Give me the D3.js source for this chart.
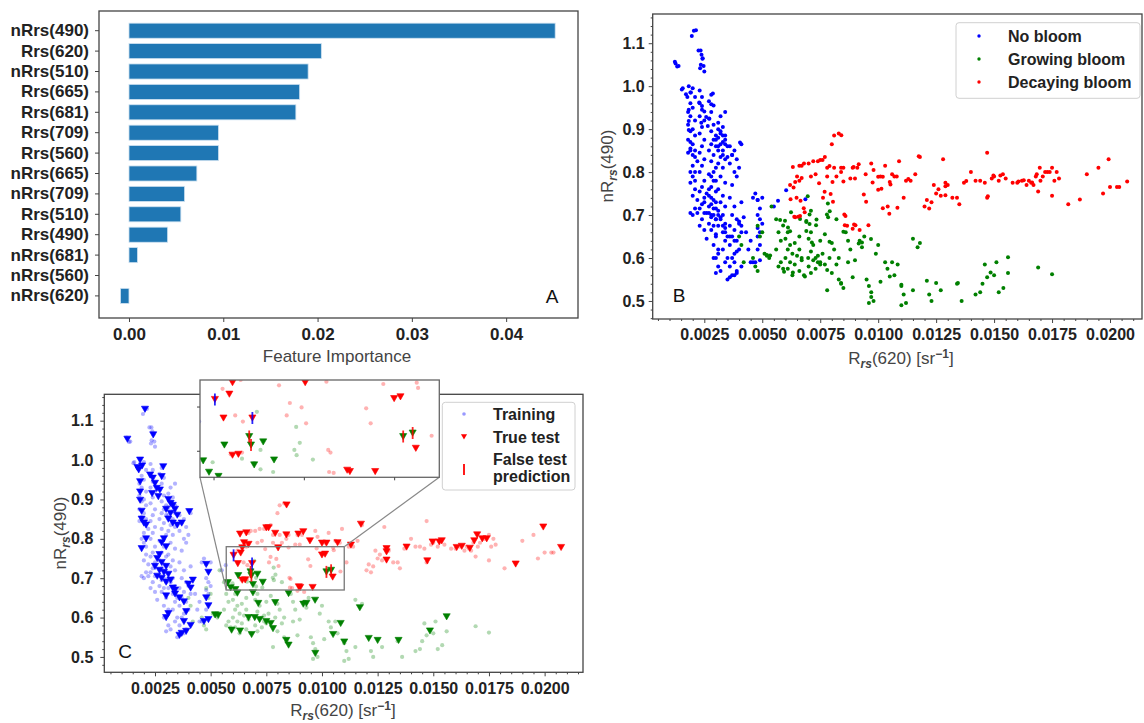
<!DOCTYPE html>
<html>
<head>
<meta charset="utf-8">
<script src="https://cdn.jsdelivr.net/npm/d3@7"></script>
<style>
  body { margin: 0; background: #fff; }
  svg text { font-family: "Liberation Sans", Arial, Helvetica, sans-serif; }
</style>
</head>
<body>
<svg id="fig" width="1144" height="723"></svg>
<script>
// ---------- Panel A: permutation feature importance ----------
const features = ["nRrs(490)", "Rrs(620)", "nRrs(510)", "Rrs(665)", "Rrs(681)", "Rrs(709)", "Rrs(560)",
  "nRrs(665)", "nRrs(709)", "Rrs(510)", "Rrs(490)", "nRrs(681)", "nRrs(560)", "nRrs(620)"];
const importance = [0.0452, 0.0204, 0.0190, 0.0181, 0.0177, 0.0095, 0.0095,
  0.0072, 0.0059, 0.0055, 0.0041, 0.0009, 0.0, -0.0009];
const importanceTicks = [0.00, 0.01, 0.02, 0.03, 0.04];

// ---------- Panels B and C: Rrs(620) vs nRrs(490) ----------
const classNames = ["No bloom", "Growing bloom", "Decaying bloom"];
const classColors = ["#0000ff", "#008000", "#ff0000"];
const xTicks620 = [0.0025, 0.0050, 0.0075, 0.0100, 0.0125, 0.0150, 0.0175, 0.0200];
const yTicks490 = [0.5, 0.6, 0.7, 0.8, 0.9, 1.0, 1.1];
const insetXTicks = [0.006, 0.008, 0.010];
const insetYTicks = [0.70, 0.75];
const insetXRange = [0.0057, 0.011];
const insetYRange = [0.67, 0.78];

// training samples [Rrs(620), nRrs(490)]
const noBloomTrain = [
  [0.00214,1.130],[0.00196,1.117],[0.00123,1.057],[0.00133,1.046],[0.00139,1.047],
  [0.00225,1.083],[0.00234,1.083],[0.00238,1.073],[0.00243,1.065],[0.00235,1.050],[0.00247,1.047],[0.00250,1.034],[0.00232,1.042],
  [0.00157,0.995],[0.00153,0.992],
  [0.0020,0.995],[0.0019,0.985],[0.0021,0.975],[0.0019,0.960],[0.0020,0.950],[0.0018,0.940],[0.0019,0.930],[0.0021,0.920],
  [0.0018,0.910],[0.0020,0.900],[0.0019,0.895],[0.0021,0.885],[0.0018,0.875],[0.0020,0.865],[0.0019,0.855],[0.0018,0.845],
  [0.0022,0.825],[0.0020,0.815],[0.0021,0.850],[0.0019,0.800],[0.0020,0.790],[0.0021,0.780],[0.0021,0.760],
  [0.0020,0.745],[0.0022,0.735],[0.0019,0.705],[0.0020,0.700],[0.0022,0.705],[0.0021,0.715],
  [0.0023,0.990],[0.0024,0.975],[0.0023,0.960],[0.0024,0.945],[0.0023,0.930],[0.0025,0.920],[0.0024,0.905],[0.0023,0.890],
  [0.0025,0.875],[0.0024,0.860],[0.0023,0.845],[0.0025,0.830],[0.0024,0.815],[0.0023,0.800],[0.0025,0.780],[0.0024,0.765],
  [0.0023,0.755],[0.0025,0.740],[0.0024,0.725],[0.0023,0.715],[0.0025,0.705],[0.0024,0.690],[0.0023,0.675],[0.0025,0.665],[0.0026,0.645],
  [0.0028,0.980],[0.0027,0.965],[0.0029,0.955],[0.0028,0.940],[0.0027,0.925],[0.0029,0.910],[0.0028,0.895],[0.0030,0.885],
  [0.0029,0.875],[0.0028,0.865],[0.0030,0.860],[0.0027,0.850],[0.0029,0.840],[0.0028,0.825],[0.0030,0.810],[0.0027,0.795],
  [0.0029,0.780],[0.0028,0.765],[0.0030,0.755],[0.0027,0.745],[0.0029,0.735],[0.0028,0.725],[0.0030,0.715],[0.0027,0.705],
  [0.0029,0.700],[0.0028,0.695],[0.0030,0.690],[0.0027,0.680],[0.0029,0.675],[0.0028,0.665],[0.0030,0.650],[0.0029,0.630],
  [0.0031,0.620],[0.0029,0.600],[0.0031,0.580],[0.0030,0.565],
  [0.0032,0.930],[0.0034,0.940],[0.0031,0.915],[0.0033,0.905],[0.0032,0.895],[0.0034,0.885],[0.0031,0.880],[0.0033,0.870],
  [0.0034,0.865],[0.0031,0.860],[0.0033,0.850],[0.0032,0.835],[0.0034,0.830],[0.0031,0.820],[0.0033,0.810],[0.0032,0.790],
  [0.0034,0.775],[0.0031,0.760],[0.0033,0.745],[0.0032,0.730],[0.0034,0.720],[0.0031,0.700],[0.0033,0.700],[0.0032,0.690],
  [0.0034,0.680],[0.0031,0.675],[0.0033,0.660],[0.0035,0.650],[0.0034,0.640],[0.0033,0.620],[0.0035,0.600],[0.0034,0.590],[0.0032,0.570],
  [0.0036,0.860],[0.0038,0.850],[0.0041,0.865],[0.0037,0.840],[0.0039,0.830],[0.0036,0.820],[0.0038,0.800],[0.0040,0.810],
  [0.0039,0.790],[0.0037,0.770],[0.0036,0.740],[0.0038,0.720],[0.0041,0.730],[0.0037,0.700],[0.0039,0.690],[0.0040,0.680],
  [0.0036,0.675],[0.0038,0.665],[0.0041,0.660],[0.0037,0.650],[0.0039,0.640],[0.0036,0.630],[0.0038,0.610],[0.0040,0.620],
  [0.0037,0.600],[0.0036,0.580],[0.0039,0.570],[0.0038,0.560],[0.0035,0.550],
  [0.0043,0.660],[0.0045,0.640],[0.0044,0.620],[0.0046,0.740],[0.0047,0.750],[0.0048,0.735],[0.0048,0.700],[0.0049,0.690],
  [0.0048,0.670],[0.0050,0.680],[0.0049,0.660],[0.0048,0.620],[0.0046,0.590],[0.0050,0.740],[0.0045,0.590],
  [0.0055,0.720],[0.00568,0.733]
];
const growingTrain = [
  [0.0040,0.650],[0.0041,0.630],[0.0042,0.590],[0.0046,0.600],[0.0047,0.580],[0.0048,0.570],[0.0049,0.650],[0.0050,0.660],
  [0.0051,0.610],[0.0052,0.605],[0.0053,0.600],[0.0054,0.720],[0.0048,0.675],
  [0.0056,0.690],[0.0057,0.660],[0.0058,0.640],[0.0056,0.620],[0.0058,0.590],[0.0057,0.580],[0.0059,0.575],[0.0061,0.660],
  [0.0060,0.645],[0.0062,0.630],[0.0061,0.620],[0.0063,0.610],[0.0060,0.600],[0.0062,0.590],[0.0061,0.575],[0.0063,0.560],
  [0.0066,0.650],[0.0064,0.635],[0.0066,0.620],[0.0065,0.605],[0.0067,0.595],[0.0064,0.585],[0.0066,0.570],[0.0068,0.560],
  [0.0071,0.660],[0.0070,0.645],[0.0072,0.630],[0.0071,0.615],[0.0073,0.600],[0.0074,0.590],[0.0070,0.580],[0.0073,0.575],
  [0.0071,0.565],[0.0074,0.605],[0.0075,0.585],[0.0076,0.610],[0.0075,0.640],[0.0077,0.655],[0.0080,0.635],[0.0081,0.620],
  [0.0079,0.600],[0.0082,0.585],[0.0080,0.565],[0.0078,0.525],[0.0083,0.550],[0.0084,0.540],[0.0086,0.660],[0.0087,0.640],
  [0.0088,0.620],[0.0087,0.590],[0.0089,0.555],[0.0090,0.595],[0.0092,0.640],[0.0093,0.625],[0.0094,0.650],[0.0095,0.550],
  [0.0096,0.535],[0.0097,0.520],[0.0096,0.495],[0.0098,0.500],[0.0099,0.610],[0.0100,0.630],[0.0101,0.545],[0.0103,0.590],
  [0.0104,0.575],[0.0106,0.590],[0.0107,0.560],[0.0110,0.535],[0.0111,0.515],[0.0112,0.495],[0.0110,0.490],
  [0.0115,0.645],[0.0118,0.635],[0.0115,0.525],[0.0122,0.515],[0.0123,0.500],[0.0127,0.525],[0.0134,0.540],[0.0136,0.500],
  [0.0142,0.515],[0.0144,0.520],[0.0145,0.540],[0.0146,0.585],[0.0147,0.555],[0.0150,0.560],[0.0151,0.590],[0.0152,0.520],
  [0.0154,0.530],[0.0156,0.565],[0.0169,0.578],[0.0175,0.562],[0.0083,0.600],
  [0.00696,0.744],[0.00783,0.727],[0.00791,0.709],[0.00779,0.701],[0.00784,0.695],[0.0082,0.690],[0.00704,0.701],
  [0.00704,0.679],[0.00732,0.676],[0.00598,0.687],[0.00663,0.691],[0.0069,0.686]
];
const decayingTrain = [
  [0.0062,0.770],[0.0066,0.780],[0.0067,0.815],[0.0068,0.820],[0.0070,0.820],[0.0072,0.825],[0.0071,0.790],[0.0073,0.795],
  [0.0074,0.825],[0.0077,0.835],[0.0078,0.790],[0.0078,0.810],[0.0080,0.865],[0.0081,0.885],[0.0083,0.890],[0.0081,0.810],
  [0.0082,0.790],[0.0084,0.800],[0.0085,0.810],[0.0088,0.785],[0.0089,0.810],[0.0091,0.810],[0.0090,0.785],[0.0092,0.665],
  [0.0089,0.668],[0.0097,0.820],[0.0098,0.805],[0.0101,0.790],[0.0103,0.815],[0.0106,0.795],[0.0108,0.790],[0.0109,0.825],
  [0.0111,0.740],[0.0112,0.780],[0.0114,0.780],[0.0116,0.795],[0.0118,0.835],[0.0120,0.720],[0.0121,0.735],[0.0122,0.715],
  [0.0123,0.730],[0.0124,0.770],[0.0125,0.750],[0.0126,0.760],[0.0127,0.745],[0.0128,0.830],[0.0130,0.770],[0.0132,0.740],
  [0.0134,0.740],[0.0135,0.725],[0.0137,0.775],[0.0140,0.800],[0.0142,0.780],[0.0144,0.780],[0.0146,0.775],[0.0147,0.845],
  [0.0147,0.740],[0.0149,0.785],[0.0150,0.790],[0.0152,0.780],[0.0155,0.785],[0.0158,0.775],[0.0160,0.775],[0.0162,0.780],
  [0.0164,0.770],[0.0165,0.780],[0.0166,0.775],[0.0167,0.770],[0.0168,0.790],[0.0169,0.755],[0.0170,0.780],[0.0171,0.790],
  [0.0173,0.800],[0.0175,0.810],[0.0175,0.745],[0.0176,0.780],[0.0177,0.800],[0.0178,0.785],[0.0182,0.725],[0.0190,0.795],
  [0.0195,0.810],[0.0197,0.750],[0.0200,0.765],[0.0203,0.765],[0.0204,0.765],
  [0.00745,0.774],[0.0085,0.778],[0.00976,0.7755],[0.0105,0.777],[0.01053,0.771],[0.00769,0.754],[0.00795,0.749],
  [0.00762,0.740],[0.00805,0.731],[0.00665,0.733],[0.00648,0.740],[0.00938,0.748],[0.00948,0.731],[0.01083,0.717],
  [0.00854,0.701],[0.00859,0.698],[0.00856,0.676],[0.00866,0.675],[0.00663,0.698],[0.00638,0.696]
];

// test samples that were classified correctly
const noBloomTest = [
  [0.00205,1.129],[0.00126,1.053],[0.00242,1.064],
  [0.00183,1.000],[0.00171,0.981],[0.00192,0.985],[0.00177,0.975],
  [0.00228,0.962],[0.0024,0.954],[0.0025,0.941],[0.00258,0.928],[0.00237,0.915],[0.00272,0.924],[0.00265,0.907],
  [0.00183,0.945],[0.00183,0.919],[0.00183,0.898],[0.0019,0.870],[0.0019,0.850],[0.0020,0.840],[0.0021,0.835],
  [0.00287,0.983],[0.0028,0.958],
  [0.0031,0.900],[0.0032,0.890],[0.0033,0.885],[0.0034,0.875],[0.0030,0.875],[0.0032,0.865],[0.0035,0.860],[0.0031,0.850],
  [0.0033,0.840],[0.0035,0.835],[0.0037,0.840],[0.00404,0.869],
  [0.0029,0.800],[0.0028,0.790],[0.0030,0.780],[0.0027,0.760],[0.0026,0.750],[0.0028,0.740],[0.0030,0.730],[0.0025,0.730],
  [0.0027,0.720],[0.0029,0.715],[0.0031,0.710],[0.0026,0.705],[0.0028,0.700],[0.0032,0.695],[0.0030,0.690],[0.0033,0.675],
  [0.0034,0.670],[0.0019,0.775],[0.0021,0.800],
  [0.0030,0.655],[0.0031,0.610],[0.0030,0.600],[0.0034,0.660],[0.0036,0.650],[0.0038,0.640],[0.0041,0.675],[0.0040,0.685],
  [0.0042,0.695],[0.0039,0.615],[0.0036,0.555],[0.0037,0.560],[0.0039,0.565],[0.0041,0.580],[0.0038,0.590],[0.0048,0.735],
  [0.0049,0.715],[0.0048,0.650],[0.0049,0.630],[0.0047,0.590],[0.0049,0.595]
];
const growingTest = [
  [0.0052,0.607],[0.00534,0.606],[0.00594,0.568],[0.00632,0.566],[0.0062,0.662],[0.0069,0.663],[0.0067,0.600],[0.00698,0.600],
  [0.0072,0.595],[0.0075,0.590],[0.0077,0.585],[0.0078,0.572],[0.00684,0.557],[0.00714,0.636],[0.0079,0.638],[0.0085,0.661],
  [0.0093,0.636],[0.0084,0.542],[0.0085,0.530],[0.0097,0.509],[0.00916,0.634],[0.00969,0.644],[0.0117,0.625],[0.01084,0.585],
  [0.0105,0.557],[0.0110,0.538],[0.0121,0.547],[0.0125,0.542],[0.01344,0.542],[0.01485,0.566],[0.0156,0.602],
  [0.00624,0.7065],[0.0071,0.710],[0.0069,0.684],[0.00734,0.6896],[0.00577,0.6886],[0.0059,0.6757],[0.00611,0.671]
];
const decayingTest = [
  [0.00841,0.886],[0.00632,0.812],[0.0066,0.815],[0.0075,0.828],[0.0076,0.828],[0.0079,0.814],[0.0084,0.810],[0.00894,0.812],
  [0.00916,0.818],[0.0065,0.790],[0.0067,0.786],[0.00946,0.795],[0.0100,0.789],[0.0102,0.789],[0.0107,0.790],[0.0113,0.784],
  [0.01175,0.837],[0.0129,0.775],[0.0129,0.767],[0.0129,0.746],[0.0138,0.779],[0.01473,0.744],[0.01497,0.792],[0.01527,0.792],
  [0.01538,0.795],[0.01605,0.778],[0.01628,0.781],[0.01664,0.776],[0.01684,0.795],[0.01697,0.810],[0.0172,0.800],[0.0174,0.800],
  [0.0187,0.736],[0.01994,0.830],[0.02074,0.778],
  [0.00642,0.777],[0.00635,0.764],[0.00622,0.737],[0.00803,0.777],[0.0100,0.759],[0.01014,0.761],[0.00642,0.695],
  [0.00655,0.696],[0.00896,0.678],[0.00902,0.6765],[0.00958,0.6765],[0.01048,0.7028]
];
// misclassified test samples: [Rrs(620), nRrs(490), predicted class, true class]
const falseTest = [
  [0.00603,0.758,2,0],[0.00686,0.737,2,0],
  [0.00679,0.716,1,2],[0.00683,0.7065,1,2],[0.0102,0.716,1,2],[0.01041,0.720,1,2]
];

const trainSets = [noBloomTrain, growingTrain, decayingTrain];
const testSets = [noBloomTest, growingTest, decayingTest];

// ---------- shared drawing helpers ----------
const svg = d3.select("#fig");
const INK = "#222";
const SPINE = "#444";

function frame(g, b, color) {
  g.append("rect").attr("x", b.left).attr("y", b.top)
    .attr("width", b.right - b.left).attr("height", b.bottom - b.top)
    .attr("fill", "none").attr("stroke", color || SPINE).attr("stroke-width", 1.3);
}
function styleAxis(sel, size) {
  sel.select(".domain").remove();
  sel.selectAll(".tick line").attr("stroke", SPINE).attr("stroke-width", 1);
  sel.selectAll(".tick text").attr("font-size", size).attr("font-weight", "bold")
    .attr("fill", INK).attr("font-family", '"Liberation Sans", Arial, sans-serif');
}
function minorValues(domain, step, majorStep) {
  const out = [];
  const start = Math.ceil(domain[0] / step - 1e-9);
  const end = Math.floor(domain[1] / step + 1e-9);
  for (let k = start; k <= end; k++) {
    const v = k * step;
    const r = v / majorStep;
    if (Math.abs(r - Math.round(r)) > 1e-6) out.push(v);
  }
  return out;
}
function scatterAxes(g, x, y, b, pad) {
  const ax = g.append("g").attr("transform", `translate(0,${b.bottom})`)
    .call(d3.axisBottom(x).tickValues(xTicks620).tickFormat(d3.format(".4f")).tickSize(4).tickPadding(pad.x));
  styleAxis(ax, 16);
  const axm = g.append("g").attr("transform", `translate(0,${b.bottom})`)
    .call(d3.axisBottom(x).tickValues(minorValues(x.domain(), 0.0005, 0.0025)).tickFormat("").tickSize(2));
  styleAxis(axm, 16);
  const ay = g.append("g").attr("transform", `translate(${b.left},0)`)
    .call(d3.axisLeft(y).tickValues(yTicks490).tickFormat(d3.format(".1f")).tickSize(4).tickPadding(pad.y));
  styleAxis(ay, 16);
  const aym = g.append("g").attr("transform", `translate(${b.left},0)`)
    .call(d3.axisLeft(y).tickValues(minorValues(y.domain(), 0.02, 0.1)).tickFormat("").tickSize(2));
  styleAxis(aym, 16);
}
function label490(g, cx, cy) {
  const t = g.append("text").attr("transform", `translate(${cx + 6},${cy}) rotate(-90)`)
    .attr("text-anchor", "middle").attr("font-size", 17).attr("fill", "#444");
  t.append("tspan").text("nR");
  t.append("tspan").attr("font-size", 12).attr("font-weight", "bold").attr("font-style", "italic").attr("dy", 4).text("rs");
  t.append("tspan").attr("dy", -4).text("(490)");
}
function label620(g, cx, cy) {
  const t = g.append("text").attr("x", cx).attr("y", cy + 6)
    .attr("text-anchor", "middle").attr("font-size", 17).attr("fill", "#444");
  t.append("tspan").text("R");
  t.append("tspan").attr("font-size", 12).attr("font-weight", "bold").attr("font-style", "italic").attr("dy", 4).text("rs");
  t.append("tspan").attr("dy", -4).text("(620) [sr");
  t.append("tspan").attr("font-size", 12).attr("font-weight", "bold").attr("dy", -6).text("\u22121");
  t.append("tspan").attr("dy", 6).text("]");
}
const triPath = d3.symbol().type(d3.symbolTriangle).size(22)();
function triangles(g, pts, x, y, color) {
  g.selectAll(null).data(pts).join("path")
    .attr("d", triPath)
    .attr("transform", d => `translate(${x(d[0])},${y(d[1]) - 1}) rotate(180)`)
    .attr("fill", color).attr("stroke", color).attr("stroke-width", 0.6);
}
function trainDots(g, pts, x, y, color) {
  g.selectAll(null).data(pts).join("circle")
    .attr("cx", d => x(d[0])).attr("cy", d => y(d[1])).attr("r", 2.1)
    .attr("fill", color).attr("fill-opacity", 0.3);
}
function falseMarks(g, x, y) {
  g.selectAll(null).data(falseTest).join("path")
    .attr("d", triPath)
    .attr("transform", d => `translate(${x(d[0])},${y(d[1]) - 1}) rotate(180)`)
    .attr("fill", d => classColors[d[2]]).attr("stroke", d => classColors[d[2]]).attr("stroke-width", 0.6);
  g.selectAll(null).data(falseTest).join("line")
    .attr("x1", d => x(d[0])).attr("x2", d => x(d[0]))
    .attr("y1", d => y(d[1]) - 6).attr("y2", d => y(d[1]) + 6)
    .attr("stroke", d => classColors[d[3]]).attr("stroke-width", 1.8).attr("stroke-opacity", 0.85);
}

// ================= Panel A =================
{
  const b = { left: 99, right: 578, top: 11, bottom: 318 };
  const g = svg.append("g");
  const x = d3.scaleLinear().domain([-0.00318, 0.04762]).range([b.left, b.right]);
  const y = d3.scaleBand().domain(features).range([20.5, 306.1]).paddingInner(0.26).paddingOuter(0.13);

  g.selectAll(null).data(features).join("rect")
    .attr("x", (f, i) => x(Math.min(0, importance[i])))
    .attr("width", (f, i) => Math.abs(x(importance[i]) - x(0)))
    .attr("y", f => y(f)).attr("height", y.bandwidth())
    .attr("fill", "#1f77b4")
    .attr("stroke", (f, i) => importance[i] === 0 ? "none" : "#cfe2f1").attr("stroke-width", 0.8);

  frame(g, b);
  const ax = g.append("g").attr("transform", `translate(0,${b.bottom})`)
    .call(d3.axisBottom(x).tickValues(importanceTicks).tickFormat(d3.format(".2f")).tickSize(4).tickPadding(6));
  styleAxis(ax, 17);
  const ay = g.append("g").attr("transform", `translate(${b.left},0)`)
    .call(d3.axisLeft(y).tickSize(4).tickPadding(6));
  styleAxis(ay, 17);

  g.append("text").attr("x", 337).attr("y", 362).attr("text-anchor", "middle")
    .attr("font-size", 17).attr("fill", "#444").text("Feature Importance");
  g.append("text").attr("x", 552).attr("y", 303).attr("text-anchor", "middle")
    .attr("font-size", 19).attr("fill", "#111").text("A");
}

// ================= Panel B =================
{
  const b = { left: 652.7, right: 1142, top: 14, bottom: 319 };
  const g = svg.append("g");
  const x = d3.scaleLinear().domain([0.000274, 0.02138]).range([b.left, b.right]);
  const y = d3.scaleLinear().domain([0.458, 1.168]).range([b.bottom, b.top]);

  classNames.forEach((name, c) => {
    const pts = trainSets[c].concat(testSets[c], falseTest.filter(d => d[3] === c));
    g.selectAll(null).data(pts).join("circle")
      .attr("cx", d => x(d[0])).attr("cy", d => y(d[1])).attr("r", 2)
      .attr("fill", classColors[c]);
  });

  frame(g, b);
  scatterAxes(g, x, y, b, { x: 6, y: 4 });
  label490(g, 607, 166);
  label620(g, 901, 358);
  g.append("text").attr("x", 679).attr("y", 302).attr("text-anchor", "middle")
    .attr("font-size", 19).attr("fill", "#111").text("B");

  // legend
  const lg = g.append("g");
  lg.append("rect").attr("x", 956).attr("y", 22.7).attr("width", 184).attr("height", 75.6)
    .attr("rx", 3).attr("fill", "#fff").attr("fill-opacity", 0.85).attr("stroke", "#d0d0d0");
  classNames.forEach((name, c) => {
    const cy = 36 + c * 23;
    lg.append("circle").attr("cx", 979).attr("cy", cy).attr("r", 1.7).attr("fill", classColors[c]);
    lg.append("text").attr("x", 1008).attr("y", cy + 6).attr("font-size", 16).attr("font-weight", "bold")
      .attr("fill", INK).text(name);
  });
}

// ================= Panel C =================
{
  const b = { left: 104.3, right: 583, top: 394.3, bottom: 672.3 };
  const g = svg.append("g");
  const x = d3.scaleLinear().domain([0.000223, 0.021724]).range([b.left, b.right]);
  const y = d3.scaleLinear().domain([0.461, 1.167]).range([b.bottom, b.top]);

  const drawSamples = (layer, xs, ys) => {
    classNames.forEach((n, c) => trainDots(layer, trainSets[c], xs, ys, classColors[c]));
    classNames.forEach((n, c) => triangles(layer, testSets[c], xs, ys, classColors[c]));
    falseMarks(layer, xs, ys);
  };
  drawSamples(g.append("g"), x, y);

  frame(g, b);
  scatterAxes(g, x, y, b, { x: 6, y: 7 });
  label490(g, 60, 533);
  label620(g, 343, 710);
  g.append("text").attr("x", 125).attr("y", 658).attr("text-anchor", "middle")
    .attr("font-size", 19).attr("fill", "#111").text("C");

  // zoomed region and connectors
  const zx0 = x(insetXRange[0]), zx1 = x(insetXRange[1]);
  const zy0 = y(insetYRange[0]), zy1 = y(insetYRange[1]);
  const ib = { left: 200, right: 439.3, top: 380, bottom: 477.3 };
  g.append("rect").attr("x", zx0).attr("y", zy1).attr("width", zx1 - zx0).attr("height", zy0 - zy1)
    .attr("fill", "none").attr("stroke", "#777").attr("stroke-width", 1.3);
  g.append("line").attr("x1", zx0).attr("y1", zy0).attr("x2", ib.left).attr("y2", ib.bottom)
    .attr("stroke", "#888").attr("stroke-width", 1.2);
  g.append("line").attr("x1", zx1).attr("y1", zy1).attr("x2", ib.right).attr("y2", ib.bottom)
    .attr("stroke", "#888").attr("stroke-width", 1.2);

  // inset axes
  const xi = d3.scaleLinear().domain(insetXRange).range([ib.left, ib.right]);
  const yi = d3.scaleLinear().domain(insetYRange).range([ib.bottom, ib.top]);
  const gi = g.append("g");
  gi.append("rect").attr("x", ib.left).attr("y", ib.top).attr("width", ib.right - ib.left)
    .attr("height", ib.bottom - ib.top).attr("fill", "#fff");
  svg.append("defs").append("clipPath").attr("id", "insetClip").append("rect")
    .attr("x", ib.left).attr("y", ib.top).attr("width", ib.right - ib.left).attr("height", ib.bottom - ib.top);
  drawSamples(gi.append("g").attr("clip-path", "url(#insetClip)"), xi, yi);
  frame(gi, ib, "#666");
  const iax = gi.append("g").attr("transform", `translate(0,${ib.bottom})`)
    .call(d3.axisBottom(xi).tickValues(insetXTicks).tickFormat("").tickSize(3));
  styleAxis(iax, 10);
  const iay = gi.append("g").attr("transform", `translate(${ib.left},0)`)
    .call(d3.axisLeft(yi).tickValues(insetYTicks).tickFormat("").tickSize(3));
  styleAxis(iay, 10);

  // legend
  const lg = g.append("g");
  lg.append("rect").attr("x", 442.3).attr("y", 402.3).attr("width", 132.7).attr("height", 87.7)
    .attr("rx", 3).attr("fill", "#fff").attr("fill-opacity", 0.85).attr("stroke", "#d0d0d0");
  lg.append("circle").attr("cx", 464).attr("cy", 414).attr("r", 1.8)
    .attr("fill", classColors[0]).attr("fill-opacity", 0.4);
  lg.append("path").attr("d", d3.symbol().type(d3.symbolTriangle).size(16)())
    .attr("transform", "translate(464,436) rotate(180)").attr("fill", classColors[2]);
  lg.append("line").attr("x1", 464).attr("x2", 464).attr("y1", 464).attr("y2", 475)
    .attr("stroke", classColors[2]).attr("stroke-width", 1.8);
  const legendRows = [["Training", 420], ["True test", 443], ["False test", 465], ["prediction", 482]];
  legendRows.forEach(([t, yy]) => {
    lg.append("text").attr("x", 493).attr("y", yy).attr("font-size", 16).attr("font-weight", "bold")
      .attr("fill", INK).text(t);
  });
}
</script>
</body>
</html>
